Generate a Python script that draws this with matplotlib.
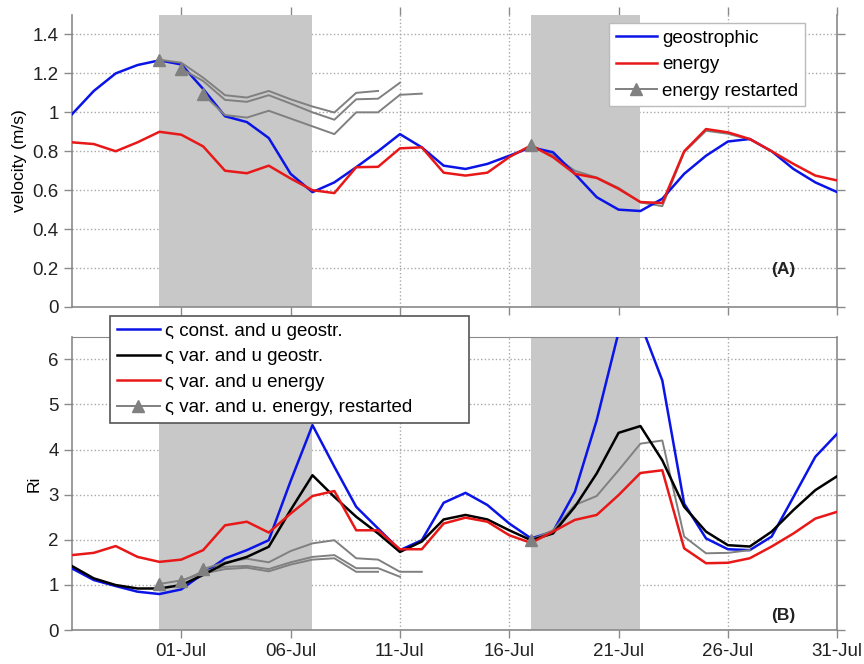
import matplotlib
matplotlib.use('Agg')
import matplotlib.pyplot as plt
import numpy as np
import pandas as pd

plt.rcParams['font.family'] = ['Liberation Sans', 'DejaVu Sans']

# daily values, 26-Jun .. 31-Jul
START = '2008-06-26'

VEL_GEOSTROPHIC = [0.99, 1.11, 1.20, 1.243, 1.267, 1.246, 1.12, 0.98, 0.95, 0.868,
                   0.684, 0.59, 0.64, 0.718, 0.80, 0.888, 0.82, 0.726, 0.709, 0.735,
                   0.777, 0.82, 0.795, 0.684, 0.564, 0.50, 0.493, 0.556, 0.684, 0.777,
                   0.85, 0.863, 0.80, 0.709, 0.64, 0.59]
VEL_ENERGY = [0.846, 0.837, 0.80, 0.846, 0.90, 0.885, 0.825, 0.70, 0.687, 0.726,
              0.66, 0.60, 0.585, 0.718, 0.72, 0.815, 0.82, 0.69, 0.675, 0.69,
              0.77, 0.83, 0.77, 0.684, 0.663, 0.607, 0.539, 0.534, 0.80, 0.914,
              0.897, 0.863, 0.80, 0.735, 0.675, 0.65]

RI_CONST_GEO = [1.365, 1.107, 0.974, 0.849, 0.797, 0.90, 1.25, 1.587, 1.77, 1.99,
                3.30, 4.54, 3.62, 2.73, 2.25, 1.77, 1.99, 2.82, 3.04, 2.77,
                2.36, 2.03, 2.18, 3.06, 4.65, 6.6, 6.8, 5.53, 2.80, 2.03,
                1.79, 1.77, 2.07, 2.95, 3.84, 4.35]
RI_VAR_GEO = [1.417, 1.144, 0.996, 0.92, 0.92, 0.996, 1.22, 1.476, 1.62, 1.845,
              2.66, 3.43, 2.95, 2.51, 2.14, 1.73, 1.96, 2.45, 2.55, 2.45,
              2.21, 1.99, 2.14, 2.73, 3.47, 4.37, 4.52, 3.76, 2.73, 2.18,
              1.88, 1.85, 2.18, 2.66, 3.10, 3.41]
RI_VAR_ENERGY = [1.66, 1.71, 1.86, 1.62, 1.51, 1.56, 1.77, 2.32, 2.40, 2.16,
                 2.58, 2.97, 3.08, 2.21, 2.21, 1.79, 1.79, 2.36, 2.49, 2.40,
                 2.10, 1.93, 2.18, 2.44, 2.55, 2.99, 3.48, 3.54, 1.81, 1.48,
                 1.49, 1.59, 1.85, 2.14, 2.47, 2.62]

# restarted runs: start date, daily values from the start
RESTART_DATES = ['2008-06-30', '2008-07-01', '2008-07-02', '2008-07-17']
RESTART_VEL = [
    [1.27, 1.255, 1.178, 1.088, 1.076, 1.11, 1.067, 1.03, 0.999, 1.10, 1.11],
    [1.224, 1.161, 1.064, 1.054, 1.088, 1.045, 1.0, 0.962, 1.067, 1.07, 1.152],
    [1.093, 0.986, 0.973, 1.008, 0.968, 0.928, 0.888, 1.0, 1.0, 1.09, 1.096],
    [0.83, 0.78, 0.70, 0.665, 0.612, 0.537, 0.518, 0.795, 0.905, 0.89, 0.86],
]
RESTART_RI = [
    [1.02, 1.10, 1.25, 1.35, 1.38, 1.30, 1.45, 1.56, 1.59, 1.29, 1.29],
    [1.08, 1.30, 1.40, 1.42, 1.35, 1.50, 1.62, 1.66, 1.37, 1.37, 1.18],
    [1.35, 1.50, 1.58, 1.50, 1.75, 1.92, 1.99, 1.59, 1.56, 1.29, 1.29],
    [2.0, 2.21, 2.77, 2.97, 3.54, 4.13, 4.20, 2.07, 1.70, 1.71, 1.77],
]

SHADED = [('2008-06-30', '2008-07-07'), ('2008-07-17', '2008-07-22')]
XTICKS = ['2008-07-01', '2008-07-06', '2008-07-11', '2008-07-16',
          '2008-07-21', '2008-07-26', '2008-07-31']
XTICK_LABELS = ['01-Jul', '06-Jul', '11-Jul', '16-Jul', '21-Jul', '26-Jul', '31-Jul']
VEL_TICKS = [0, 0.2, 0.4, 0.6, 0.8, 1.0, 1.2, 1.4]
VEL_TICK_LABELS = ['0', '0.2', '0.4', '0.6', '0.8', '1', '1.2', '1.4']
RI_TICKS = [0, 1, 2, 3, 4, 5, 6]

BLUE = '#0a14e6'
RED = '#e81818'
GRAY = '#808080'
SHADE = '#c8c8c8'
SPINE = '#8a8a8a'
FS = 13.5


def style_axis(ax, ylim, yticks, yticklabels, show_xlabels, top_ticks):
    x = pd.to_datetime(XTICKS)
    ax.set_xlim(pd.Timestamp('2008-06-26'), pd.Timestamp('2008-07-31'))
    ax.set_ylim(*ylim)
    ax.set_xticks(x)
    ax.set_xticklabels(XTICK_LABELS if show_xlabels else [])
    ax.set_yticks(yticks)
    ax.set_yticklabels(yticklabels)
    ax.set_axisbelow(True)
    ax.grid(True, linestyle=':', color='#a8a8a8', linewidth=1.0)
    for side in ('left', 'bottom', 'right'):
        ax.spines[side].set_color(SPINE)
        ax.spines[side].set_linewidth(1.2)
    ax.spines['top'].set_visible(not top_ticks)
    ax.spines['top'].set_color(SPINE)
    ax.tick_params(direction='out', length=6, width=1, color=SPINE,
                   labelsize=FS, labelcolor='#222222',
                   right=True, top=top_ticks)
    for a, b in SHADED:
        ax.axvspan(pd.Timestamp(a), pd.Timestamp(b), color=SHADE, lw=0, zorder=1)


def restart_handle():
    return plt.Line2D([], [], color=GRAY, lw=1.4, marker='^', ms=9)


days = pd.date_range(START, periods=len(VEL_GEOSTROPHIC), freq='D')

fig = plt.figure(figsize=(8.64, 6.64), dpi=100)
ax1 = fig.add_axes([0.0833, 0.5377, 0.8857, 0.4397])
ax2 = fig.add_axes([0.0833, 0.0512, 0.8857, 0.4417])

# (A) velocity
style_axis(ax1, (0, 1.5), VEL_TICKS, VEL_TICK_LABELS, False, True)
ax1.plot(days, VEL_GEOSTROPHIC, color=BLUE, lw=1.8, zorder=3, label='geostrophic')
ax1.plot(days, VEL_ENERGY, color=RED, lw=1.8, zorder=4, label='energy')
for i, (d0, vals) in enumerate(zip(RESTART_DATES, RESTART_VEL)):
    t = pd.date_range(d0, periods=len(vals), freq='D')
    ax1.plot(t, vals, color=GRAY, lw=1.4, zorder=3 if i < 3 else 2,
             label='energy restarted' if i == 0 else None)
    ax1.plot(t[0], vals[0], marker='^', color=GRAY, ms=9, zorder=5)
h, l = ax1.get_legend_handles_labels()
h[2] = restart_handle()
leg1 = ax1.legend(h, l, loc='upper right', bbox_to_anchor=(0.958, 0.9726),
                  borderaxespad=0, fontsize=FS, handlelength=2.2,
                  handletextpad=0.3, labelspacing=0.5, framealpha=1,
                  fancybox=False, edgecolor='#bbbbbb', borderpad=0.35)
leg1.get_frame().set_linewidth(1.0)
ax1.set_ylabel('velocity (m/s)', fontsize=12.5, labelpad=4)
ax1.text(0.93, 0.127, '(A)', transform=ax1.transAxes, fontsize=12.5,
         fontweight='bold', ha='center', va='center', color='#222222')

# (B) Richardson number
style_axis(ax2, (0, 6.5), RI_TICKS, [str(v) for v in RI_TICKS], True, False)
ax2.plot(days, RI_CONST_GEO, color=BLUE, lw=1.8, zorder=3,
         label='ς const. and u geostr.')
ax2.plot(days, RI_VAR_GEO, color='black', lw=1.8, zorder=4,
         label='ς var. and u geostr.')
ax2.plot(days, RI_VAR_ENERGY, color=RED, lw=1.8, zorder=4,
         label='ς var. and u energy')
for i, (d0, vals) in enumerate(zip(RESTART_DATES, RESTART_RI)):
    t = pd.date_range(d0, periods=len(vals), freq='D')
    ax2.plot(t, vals, color=GRAY, lw=1.4, zorder=3,
             label='ς var. and u. energy, restarted' if i == 0 else None)
    ax2.plot(t[0], vals[0], marker='^', color=GRAY, ms=9, zorder=5)
h, l = ax2.get_legend_handles_labels()
h[3] = restart_handle()
leg2 = ax2.legend(h, l, loc='upper left', mode='expand',
                  bbox_to_anchor=(0.0497, 0.5, 0.469, 0.5706),
                  borderaxespad=0, fontsize=FS, handlelength=2.3,
                  handletextpad=0.3, labelspacing=0.45, framealpha=1,
                  fancybox=False, edgecolor='#555555', borderpad=0.35)
leg2.get_frame().set_linewidth(1.2)
ax2.set_ylabel('Ri', fontsize=12.5, labelpad=5)
ax2.text(0.93, 0.051, '(B)', transform=ax2.transAxes, fontsize=12.5,
         fontweight='bold', ha='center', va='center', color='#222222')

fig.savefig('out.png', dpi=100)
